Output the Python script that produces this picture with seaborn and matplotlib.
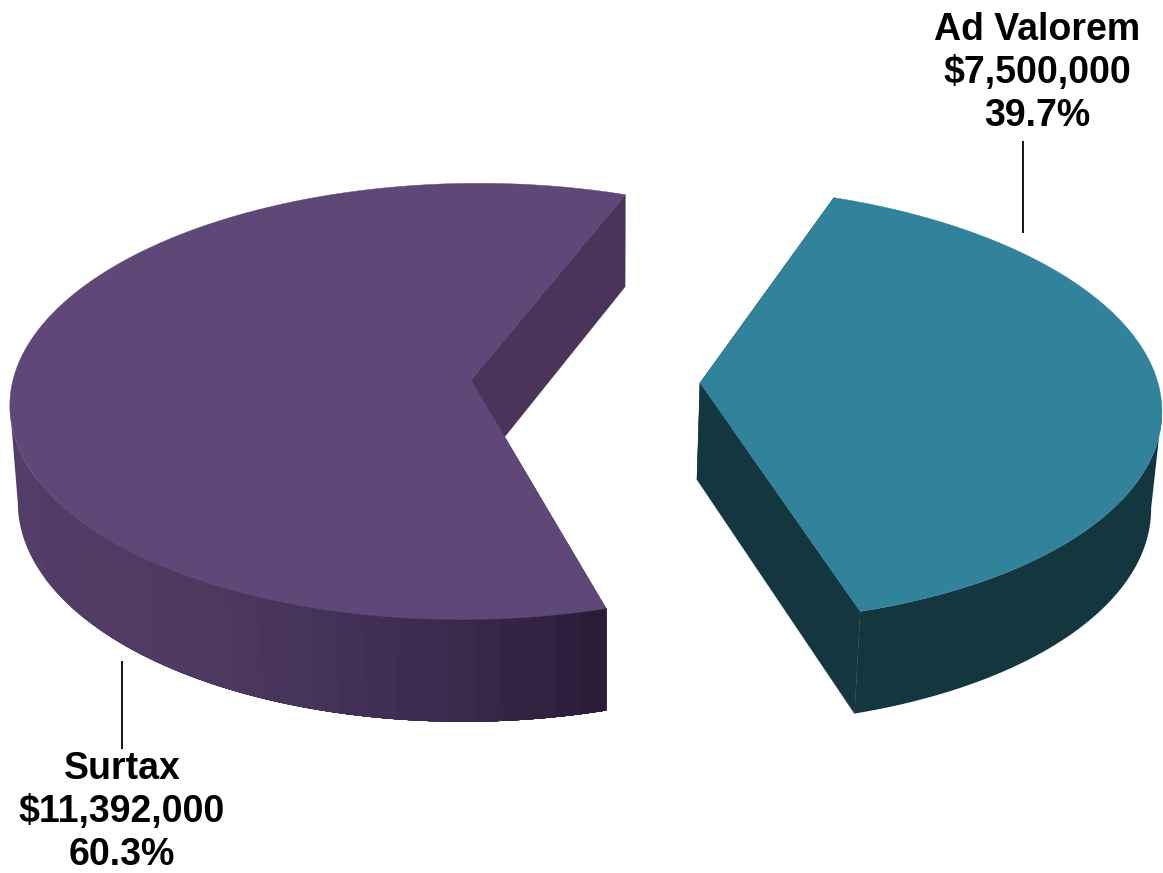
import numpy as np
import matplotlib
matplotlib.use("Agg")
import matplotlib.pyplot as plt
from matplotlib.patches import Polygon
import seaborn as sns

# Revenue split shown by the pie
labels = ["Surtax", "Ad Valorem"]
values = [11392000, 7500000]
start_angle = 69.5  # degrees, anticlockwise, where the first slice begins

top_colors = ["#5f4878", "#31829b"]
inner_colors = ["#4a3459", "#14363f"]
outer_ramps = [["#533d69", "#503a60", "#46335a", "#3a2a4c", "#2b1d38"], ["#14363f", "#14363f"]]
rim_bands = [22, 1]

# Perspective of each exploded slice: apex, radii, tilt, shear, base offset
apex = [(471, 380), (700, 383)]
radius_x, radius_y, depth_k = 458.0, 216.0, 0.098
shear = [-0.04, 0.07]
base_scale = [0.9866, 0.983]
base_pivot = [(606, 606), (700, 697)]
drop_base, drop_slope = 87.4, 0.024

label_anchor = [(122, 865), (1037, 126)]
leaders = [((122, 661), (122, 749)), ((1023, 141), (1023, 233))]

sns.set_theme(style="white")
plt.rcParams["font.family"] = ["Liberation Sans", "DejaVu Sans"]

fig = plt.figure(figsize=(11.63, 8.73), dpi=100, facecolor="white")
ax = fig.add_axes([0, 0, 1, 1])
ax.set_xlim(0, 1163)
ax.set_ylim(873, 0)
ax.axis("off")


def top_face(idx, theta):
    w = 1 + depth_k * np.sin(theta)
    dx = radius_x * np.cos(theta) / w
    dy = -radius_y * np.sin(theta) / w
    return apex[idx][0] + dx + shear[idx] * dy, apex[idx][1] + dy


def to_base(idx, x, y):
    src, dst = base_pivot[idx]
    return dst + base_scale[idx] * (np.asarray(x) - src), np.asarray(y) + drop_base + drop_slope * np.asarray(y)


def rim_polygon(xs, ys, bxs, bys):
    return np.column_stack([np.r_[xs, bxs[::-1]], np.r_[ys, bys[::-1]]])


total = sum(values)
sweeps = [360.0 * v / total for v in values]
bounds = start_angle + np.concatenate([[0], np.cumsum(sweeps)])

for idx, name in enumerate(labels):
    # The second slice wraps past the start, so its arc runs through the near side
    theta = np.radians(np.linspace(bounds[idx], bounds[idx + 1], 360))
    x, y = top_face(idx, theta)
    bx, by = to_base(idx, x, y)
    ax0, ay0 = apex[idx]
    abx, aby = to_base(idx, ax0, ay0)

    # Cut faces, seen only where they turn toward the viewer
    for k in (0, -1):
        ax.add_patch(Polygon([(ax0, ay0), (x[k], y[k]), (bx[k], by[k]), (abx, aby)],
                             closed=True, fc=inner_colors[idx], ec=inner_colors[idx], lw=0.3, zorder=1))

    # Near-side rim, from the outermost silhouette point round to the cut,
    # shaded in overlapping bands from left to right
    if idx == 0:
        near = np.arange(len(x)) >= np.argmin(x)
    else:
        near = np.arange(len(x)) <= np.argmax(x)
    xn, yn, bxn, byn = x[near], y[near], bx[near], by[near]
    if xn[0] > xn[-1]:
        xn, yn, bxn, byn = xn[::-1], yn[::-1], bxn[::-1], byn[::-1]
    n_bands = rim_bands[idx]
    ramp = sns.blend_palette(outer_ramps[idx], n_bands)
    edges = np.linspace(xn.min(), xn.max(), n_bands + 1)
    for b in range(n_bands):
        keep = xn >= edges[b]
        ax.add_patch(Polygon(rim_polygon(xn[keep], yn[keep], bxn[keep], byn[keep]), closed=True,
                             fc=ramp[b], ec="none", zorder=2))

    # Upper face
    ax.add_patch(Polygon(np.column_stack([np.r_[ax0, x], np.r_[ay0, y]]), closed=True,
                         fc=top_colors[idx], ec=top_colors[idx], lw=0.3, zorder=3))

    # Callout text and leader
    text = f"{name}\n${values[idx]:,}\n{values[idx] / total:.1%}"
    ax.text(label_anchor[idx][0], label_anchor[idx][1], text, ha="center", va="baseline",
            fontsize=27, fontweight="bold", color="black", linespacing=1.25,
            multialignment="center", zorder=5)
    (x0, y0), (x1, y1) = leaders[idx]
    ax.plot([x0, x1], [y0, y1], color="black", lw=1.3, zorder=4, solid_capstyle="butt")

fig.savefig("out.png", dpi=100, facecolor="white")
